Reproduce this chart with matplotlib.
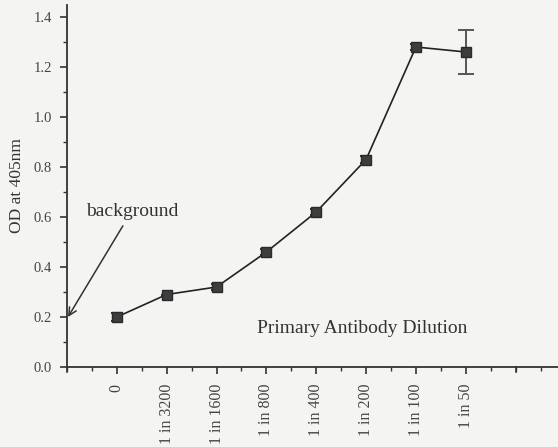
import matplotlib
matplotlib.use("Agg")
import matplotlib.pyplot as plt
from matplotlib.ticker import MultipleLocator

categories = ["0", "1 in 3200", "1 in 1600", "1 in 800", "1 in 400", "1 in 200", "1 in 100", "1 in 50"]
od_values = [0.20, 0.29, 0.32, 0.46, 0.62, 0.83, 1.28, 1.26]
od_errors = [0.015, 0.0, 0.012, 0.012, 0.012, 0.015, 0.012, 0.088]

plt.rcParams['font.family'] = ['Liberation Serif', 'DejaVu Serif']
bg = '#f4f4f2'
fig = plt.figure(figsize=(5.58, 4.47), dpi=100, facecolor=bg)
ax = fig.add_axes([67/558, (447-367)/447, (558-67)/558, (367-5)/447])
ax.set_facecolor(bg)

x = list(range(len(categories)))
ax.plot(x, od_values, color='#222222', lw=1.2, zorder=2)
ax.errorbar(x[:-1], od_values[:-1], yerr=od_errors[:-1], fmt='none', ecolor='#333333',
            elinewidth=1.5, capsize=4, capthick=1.5, zorder=3)
ax.errorbar(x[-1:], od_values[-1:], yerr=od_errors[-1:], fmt='none', ecolor='#555555',
            elinewidth=1.4, capsize=6, capthick=1.4, zorder=3)
ax.plot(x, od_values, ls='none', marker='s', ms=7, color='#3d3d3d', mec='#2a2a2a', zorder=4)

ax.set_xlim(-1, 8.85)
ax.set_ylim(0, 1.448)
ax.set_xticks(x)
ax.set_xticklabels(categories, rotation=90, fontsize=11.5)
ax.xaxis.set_minor_locator(MultipleLocator(0.5))
ax.yaxis.set_minor_locator(MultipleLocator(0.1))
ax.set_yticks([0, 0.2, 0.4, 0.6, 0.8, 1.0, 1.2, 1.4])
ax.set_yticklabels(['0.0', '0.2', '0.4', '0.6', '0.8', '1.0', '1.2', '1.4'], fontsize=10.5)
ax.tick_params(axis='both', which='major', direction='out', length=5, width=1.2, color='#333333', labelcolor='#444444')
ax.tick_params(axis='both', which='minor', direction='out', length=3, width=1.0, color='#333333')
ax.tick_params(axis='x', which='major', pad=7)
ax.tick_params(axis='y', which='major', pad=6)
# extra tick at axis origin and one beyond last category
for xt in [-1, 8]:
    ax.plot([xt, xt], [0, -0.02], color='#333333', lw=1.2, clip_on=False)

for s in ['top', 'right']:
    ax.spines[s].set_visible(False)
for s in ['left', 'bottom']:
    ax.spines[s].set_linewidth(1.3)
    ax.spines[s].set_color('#333333')

ax.set_ylabel('OD at 405nm', fontsize=12.5, color='#333333', labelpad=6)
ax.text(4.92, 0.12, 'Primary Antibody Dilution', fontsize=14, color='#333333', ha='center', va='bottom')
ax.annotate('background', xy=(-0.98, 0.2), xytext=(0.3, 0.59), fontsize=14, color='#333333',
            ha='center', va='bottom',
            arrowprops=dict(arrowstyle='->', color='#333333', lw=1.1, shrinkA=3, shrinkB=0))

fig.savefig('out.png', dpi=100, facecolor=bg)
